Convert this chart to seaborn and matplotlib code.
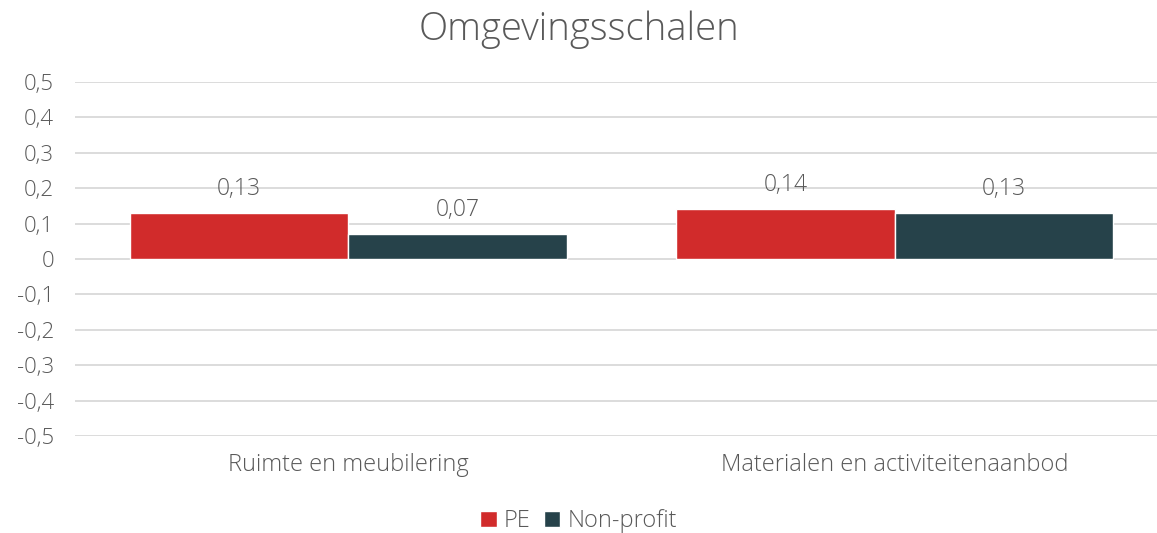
import pandas as pd
import seaborn as sns
import matplotlib.pyplot as plt
from matplotlib.ticker import FuncFormatter

# chart data
categories = ['Ruimte en meubilering', 'Materialen en activiteitenaanbod']
groups = ['PE', 'Non-profit']
pe_values = [0.13, 0.14]
nonprofit_values = [0.07, 0.13]

df = pd.DataFrame({
    'Schaal': categories * 2,
    'Groep': [groups[0]] * 2 + [groups[1]] * 2,
    'Waarde': pe_values + nonprofit_values,
})

sns.set_theme(style='white')
plt.rcParams['font.family'] = ['Open Sans', 'DejaVu Sans']
text_col = '#595959'

fig = plt.figure(figsize=(11.57, 5.33), dpi=100)
# the gridlines run off the right edge in the original
ax = fig.add_axes([0.0648, 0.182, 0.9447, 0.664])

sns.barplot(data=df, x='Schaal', y='Waarde', hue='Groep', order=categories,
            hue_order=groups, palette=['#D12B2B', '#26424A'], width=0.8,
            saturation=1, ax=ax, legend=True)

for cont in ax.containers:
    ax.bar_label(cont, labels=[f'{v:.2f}'.replace('.', ',') for v in cont.datavalues],
                 padding=9, fontsize=16.5, color=text_col, fontweight='light')

ax.set_ylim(-0.5, 0.5)
ax.set_yticks([x / 10 for x in range(-5, 6)])
ax.yaxis.set_major_formatter(FuncFormatter(
    lambda v, p: '0' if abs(v) < 1e-9 else f'{v:.1f}'.replace('.', ',')))
ax.grid(axis='y', color='#D9D9D9', linewidth=1.3)
ax.set_axisbelow(True)
for s in ax.spines.values():
    s.set_visible(False)
ax.tick_params(axis='y', labelsize=16, labelcolor=text_col, pad=15, length=0)
ax.tick_params(axis='x', labelsize=17, labelcolor=text_col, pad=12, length=0)
for lbl in ax.get_xticklabels() + ax.get_yticklabels():
    lbl.set_fontweight('light')
ax.set_xlabel('')
ax.set_ylabel('')
ax.set_xlim(-0.5, 1.5)

fig.text(0.5, 0.945, 'Omgevingsschalen', fontsize=27.5, color=text_col,
         ha='center', va='center', fontweight='light')

handles, labels = ax.get_legend_handles_labels()
ax.get_legend().remove()
fig.legend(handles, labels, loc='center', bbox_to_anchor=(0.5, 0.022), ncol=2,
           frameon=False, labelcolor=text_col, handlelength=0.7,
           handleheight=0.7, handletextpad=0.3, columnspacing=0.55,
           prop={'weight': 'light', 'size': 17})

fig.savefig('out.png', dpi=100)
